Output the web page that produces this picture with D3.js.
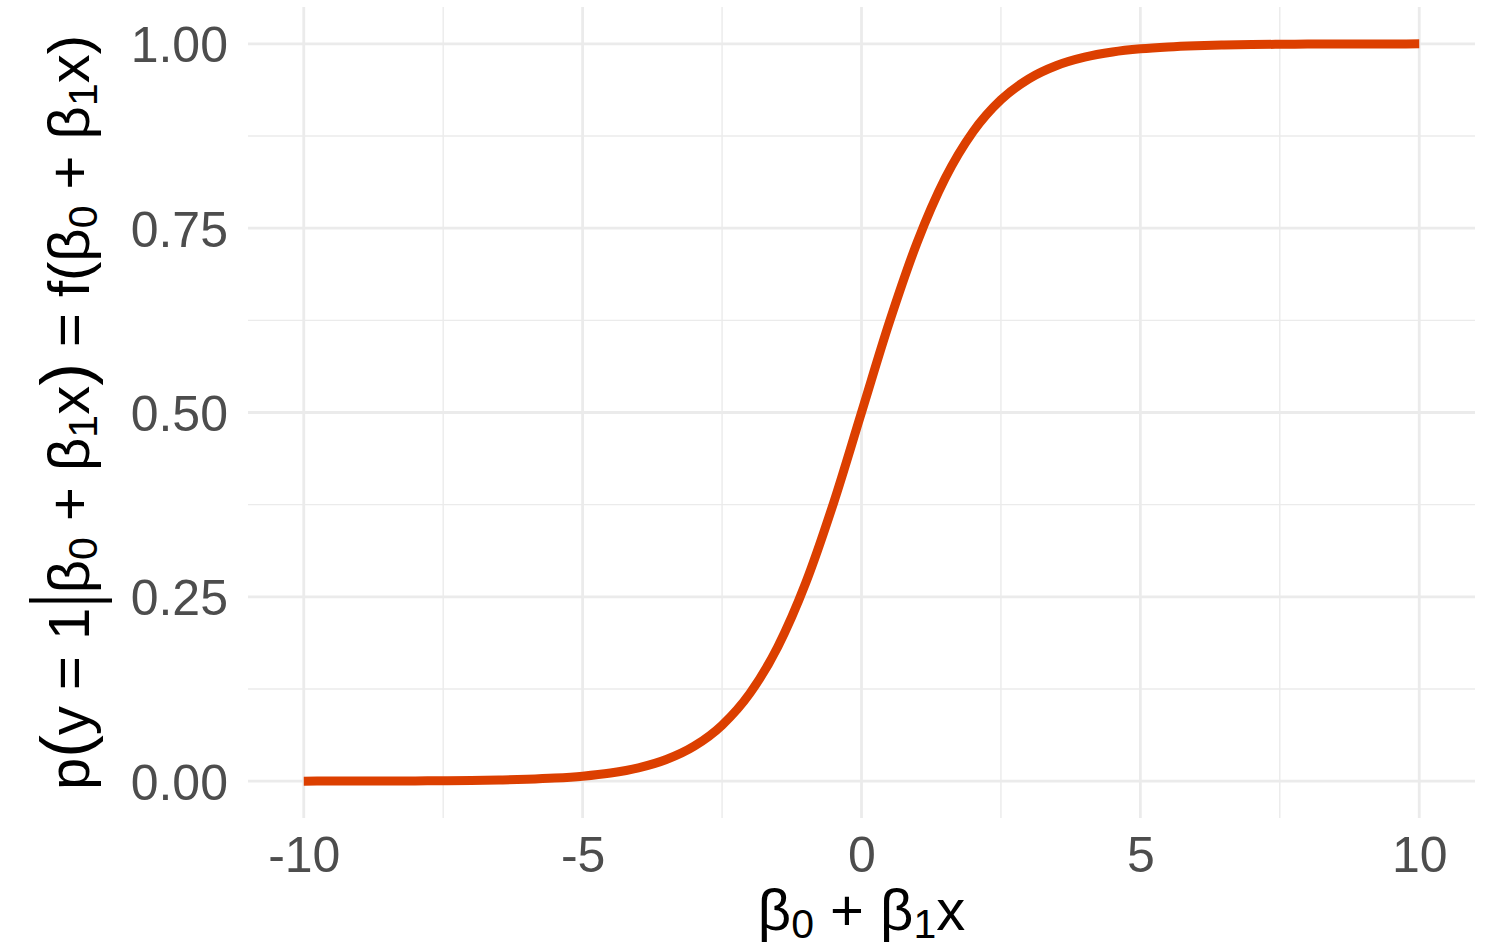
<!DOCTYPE html>
<html>
<head>
<meta charset="utf-8">
<script src="https://cdn.jsdelivr.net/npm/d3@7"></script>
<style>
  body { margin: 0; background: #fff; }
  text { font-family: "Liberation Sans", Arial, sans-serif; }
</style>
</head>
<body>
<svg id="chart"></svg>
<script>
// values, x = linear predictor, p = probability
var xs = [-10, -9.5, -9, -8.5, -8, -7.5, -7, -6.5, -6, -5.5, -5, -4.5, -4, -3.5, -3, -2.5, -2, -1.5, -1, -0.5,
          0, 0.5, 1, 1.5, 2, 2.5, 3, 3.5, 4, 4.5, 5, 5.5, 6, 6.5, 7, 7.5, 8, 8.5, 9, 9.5, 10];
var ps = [0.0000, 0.0001, 0.0001, 0.0002, 0.0003, 0.0006, 0.0009, 0.0015, 0.0025, 0.0041, 0.0067, 0.0110, 0.0180,
          0.0293, 0.0474, 0.0759, 0.1192, 0.1824, 0.2689, 0.3775, 0.5000, 0.6225, 0.7311, 0.8176, 0.8808, 0.9241,
          0.9526, 0.9707, 0.9820, 0.9890, 0.9933, 0.9959, 0.9975, 0.9985, 0.9991, 0.9994, 0.9997, 0.9998, 0.9999,
          0.9999, 1.0000];

var xMajor = [-10, -5, 0, 5, 10];
var xMinor = [-7.5, -2.5, 2.5, 7.5];
var yMajor = [0, 0.25, 0.5, 0.75, 1];
var yMinor = [0.125, 0.375, 0.625, 0.875];

// size & panel box
var config = {
  w: 1490,
  h: 949,
  left: 248,
  right: 1475,
  top: 7,
  bottom: 818
};

var svg = d3.select("#chart")
  .attr("width", config.w)
  .attr("height", config.h);

var x = d3.scaleLinear().domain([-11, 11]).range([config.left, config.right]);
var y = d3.scaleLinear().domain([-0.05, 1.05]).range([config.bottom, config.top]);

var grid = svg.append("g").attr("id", "grid");

// minor grid first, then major
grid.selectAll("line.ymin").data(yMinor).enter().append("line")
  .attr("x1", config.left).attr("x2", config.right)
  .attr("y1", function(d) { return y(d); }).attr("y2", function(d) { return y(d); })
  .attr("stroke", "#ebebeb").attr("stroke-width", 1.4);
grid.selectAll("line.xmin").data(xMinor).enter().append("line")
  .attr("y1", config.top).attr("y2", config.bottom)
  .attr("x1", function(d) { return x(d); }).attr("x2", function(d) { return x(d); })
  .attr("stroke", "#ebebeb").attr("stroke-width", 1.4);
grid.selectAll("line.ymaj").data(yMajor).enter().append("line")
  .attr("x1", config.left).attr("x2", config.right)
  .attr("y1", function(d) { return y(d); }).attr("y2", function(d) { return y(d); })
  .attr("stroke", "#ebebeb").attr("stroke-width", 2.8);
grid.selectAll("line.xmaj").data(xMajor).enter().append("line")
  .attr("y1", config.top).attr("y2", config.bottom)
  .attr("x1", function(d) { return x(d); }).attr("x2", function(d) { return x(d); })
  .attr("stroke", "#ebebeb").attr("stroke-width", 2.8);

// axes: labels only, no domain or ticks
var xAxis = svg.append("g")
  .attr("transform", "translate(0," + config.bottom + ")")
  .call(d3.axisBottom(x).tickValues(xMajor).tickSize(0).tickPadding(54)
    .tickFormat(function(d) { return String(d); }));
var yAxis = svg.append("g")
  .attr("transform", "translate(" + config.left + ",0)")
  .call(d3.axisLeft(y).tickValues(yMajor).tickSize(0).tickPadding(20).tickFormat(d3.format(".2f")));

[xAxis, yAxis].forEach(function(a) {
  a.select(".domain").remove();
  a.selectAll("text")
    .attr("fill", "#4d4d4d")
    .style("font-size", "50px")
    .style("font-family", "'Liberation Sans', Arial, sans-serif");
});
xAxis.selectAll("text").attr("dy", 0);
yAxis.selectAll("text").attr("dy", "0.36em");

// the curve
var line = d3.line()
  .x(function(d, i) { return x(xs[i]); })
  .y(function(d) { return y(d); })
  .curve(d3.curveMonotoneX);

svg.append("path")
  .datum(ps)
  .attr("d", line)
  .attr("fill", "none")
  .attr("stroke", "#dc3f00")
  .attr("stroke-width", 9);

// write math-ish text with subscripts; returns char index of the bar slot
var SUB = 8;
function mathText(t, parts) {
  var shift = 0, idx = 0, barIdx = -1;
  parts.forEach(function(p) {
    var ts = t.append("tspan").text(p.s);
    var dy = 0;
    if (p.sub) { dy = SUB; shift = SUB; ts.style("font-size", "41px"); }
    else if (shift) { dy = -shift; shift = 0; }
    if (dy) ts.attr("dy", dy);
    if (p.big) ts.style("font-size", p.big + "px");
    if (p.bar) barIdx = idx;
    idx += p.s.length;
  });
  return barIdx;
}

var xt = svg.append("text")
  .attr("x", (config.left + config.right) / 2)
  .attr("y", 930)
  .attr("text-anchor", "middle")
  .style("font-size", "58px")
  .attr("fill", "#000");
mathText(xt, [
  {s: "\u03b2"}, {s: "0", sub: true}, {s: " + \u03b2"}, {s: "1", sub: true}, {s: "x"}
]);

var yg = svg.append("g")
  .attr("transform", "translate(89," + ((config.top + config.bottom) / 2) + ") rotate(-90)");
var yt = yg.append("text")
  .attr("text-anchor", "middle")
  .style("font-size", "58px")
  .attr("fill", "#000");
var bi = mathText(yt, [
  {s: "p"}, {s: "(", big: 68}, {s: "y = 1"}, {s: "\u2005", bar: true}, {s: "\u03b2"}, {s: "0", sub: true},
  {s: " + \u03b2"}, {s: "1", sub: true}, {s: "x"}, {s: ")", big: 68},
  {s: " = f(\u03b2"}, {s: "0", sub: true}, {s: " + \u03b2"}, {s: "1", sub: true}, {s: "x)"}
]);

// tall thin conditional bar
var node = yt.node();
var ext = node.getExtentOfChar(bi);
var bx = ext.x + ext.width / 2;
yg.append("line")
  .attr("x1", bx).attr("x2", bx)
  .attr("y1", -60).attr("y2", 23)
  .attr("stroke", "#000")
  .attr("stroke-width", 4);
</script>
</body>
</html>
